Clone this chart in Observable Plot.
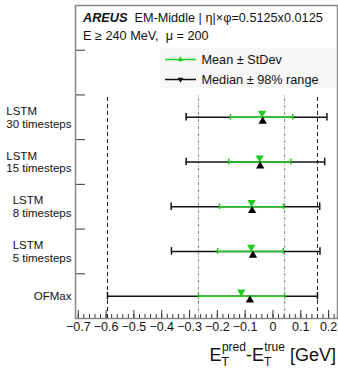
<!DOCTYPE html>
<html>
<head>
<meta charset="utf-8">
<script src="https://cdn.jsdelivr.net/npm/d3@7"></script>
<script src="https://cdn.jsdelivr.net/npm/@observablehq/plot@0.6"></script>
<style>
  html, body { margin: 0; padding: 0; background: #fff; }
  svg { display: block; }
</style>
</head>
<body>
<div id="chart"></div>
<script>
// ---- data ----
const models = ["OFMax", "LSTM 5 timesteps", "LSTM 8 timesteps", "LSTM 15 timesteps", "LSTM 30 timesteps"];
const labelLines = [["OFMax"], ["LSTM", "5 timesteps"], ["LSTM", "8 timesteps"], ["LSTM", "15 timesteps"], ["LSTM", "30 timesteps"]];
const meanVals   = [-0.114, -0.078, -0.077, -0.048, -0.039];
const stdLow     = [-0.268, -0.199, -0.192, -0.159, -0.153];
const stdHigh    = [ 0.042,  0.037,  0.038,  0.064,  0.071];
const medianVals = [-0.083, -0.072, -0.075, -0.046, -0.037];
const rangeLow   = [-0.595, -0.365, -0.366, -0.312, -0.312];
const rangeHigh  = [ 0.160,  0.169,  0.168,  0.186,  0.194];
const xTicks = [-0.7, -0.6, -0.5, -0.4, -0.3, -0.2, -0.1, 0, 0.1, 0.2];
const yTicks = [1, 2, 3, 4, 5, 6];
const titleBold = "AREUS";
const titleRest = "EM-Middle | η|×φ=0.5125x0.0125";
const subtitle = "E ≥ 240 MeV,  μ = 200";
const legendLabels = ["Mean ± StDev", "Median ± 98% range"];

const GREEN = "#22cc22";
const FONT = "'Liberation Sans', Arial, Helvetica, sans-serif";

const rows = models.map((m, i) => ({
  model: m, pos: i + 0.5, lines: labelLines[i],
  mean: meanVals[i], sLo: stdLow[i], sHi: stdHigh[i],
  median: medianVals[i], rLo: rangeLow[i], rHi: rangeHigh[i]
}));
const ref = rows[0]; // OFMax reference lines
const vDashed = [ref.rLo, ref.rHi];
const vDotted = [ref.sLo, ref.sHi];

const xDomain = [-0.71, 0.232];
const minorTicks = d3.range(-35, 12).map(i => +(i * 0.02).toFixed(2)).filter(v => v >= xDomain[0] && v <= xDomain[1]);

const fmt = d3.format(".1f");

// label marks per row (block right-aligned, lines left-aligned)
const ctx = document.createElement("canvas").getContext("2d");
ctx.font = `11.5px ${FONT}`;
const labelMarks = rows.map(r => {
  const w = d3.max(r.lines, l => ctx.measureText(l).width);
  return Plot.text([r], {
    y: "pos", frameAnchor: "left", textAnchor: "start",
    text: d => d.lines.join("\n"), lineHeight: 1.1,
    dx: -4 - w, fontSize: 11.5, fill: "#111"
  });
});

const chart = Plot.plot({
  width: 338, height: 372,
  marginLeft: 75, marginRight: 1, marginTop: 5, marginBottom: 54,
  style: { fontFamily: FONT, fontSize: "12.5px", background: "#fff", color: "#111" },
  x: { domain: xDomain, axis: null },
  y: { domain: [0, 7], axis: null },
  marks: [
    // reference vertical lines from OFMax
    Plot.ruleX(vDotted, { x: d => d, y1: 0, y2: 5, stroke: "#888", strokeDasharray: "3,1.5,1,1.5", strokeWidth: 1 }),
    Plot.ruleX(vDashed, { x: d => d, y1: 0, y2: 5, stroke: "#222", strokeDasharray: "4,3", strokeWidth: 1 }),
    // black 98% range
    Plot.ruleY(rows, { y: "pos", x1: "rLo", x2: "rHi", stroke: "#111", strokeWidth: 1.5 }),
    Plot.ruleX(rows, { x: "rLo", y1: d => d.pos - 0.085, y2: d => d.pos + 0.085, stroke: "#111", strokeWidth: 1.5 }),
    Plot.ruleX(rows, { x: "rHi", y1: d => d.pos - 0.085, y2: d => d.pos + 0.085, stroke: "#111", strokeWidth: 1.5 }),
    // green std
    Plot.ruleY(rows, { y: "pos", x1: "sLo", x2: "sHi", stroke: GREEN, strokeWidth: 1.5 }),
    Plot.ruleX(rows, { x: "sLo", y1: d => d.pos - 0.065, y2: d => d.pos + 0.065, stroke: GREEN, strokeWidth: 1.5 }),
    Plot.ruleX(rows, { x: "sHi", y1: d => d.pos - 0.065, y2: d => d.pos + 0.065, stroke: GREEN, strokeWidth: 1.5 }),
    // markers
    Plot.dot(rows, { x: "mean", y: "pos", symbol: "triangle", rotate: 180, r: 3.1, fill: GREEN, dy: -4.2 }),
    Plot.dot(rows, { x: "median", y: "pos", symbol: "triangle", r: 3.1, fill: "#000", dy: 4 }),
    // axis ticks (inward)
    Plot.ruleX(minorTicks, { x: d => d, y1: 0, y2: 0.09, stroke: "#333", strokeWidth: 1 }),
    Plot.ruleX(xTicks, { x: d => d, y1: 0, y2: 0.18, stroke: "#333", strokeWidth: 1 }),
    Plot.ruleY(yTicks, { y: d => d, x1: xDomain[0], x2: xDomain[0] + 0.036, stroke: "#333", strokeWidth: 1 }),
    Plot.axisX(xTicks, { tickSize: 0, tickPadding: 4, tickFormat: d => d === 0 ? "0" : fmt(d), label: null, fontSize: 12.5 }),
    ...labelMarks,
    Plot.frame({ stroke: "#888", strokeWidth: 1.5 })
  ]
});

const svg = d3.select(chart);

// backgrounds (inserted beneath everything)
svg.insert("rect", ":first-child").attr("x", 160).attr("y", 48).attr("width", 176).attr("height", 40).attr("fill", "#f7f7f7");
svg.insert("rect", ":first-child").attr("width", 338).attr("height", 372).attr("fill", "#fff");

// title lines
const t1 = svg.append("text").attr("x", 83).attr("y", 22).attr("font-size", 12.7).attr("fill", "#111").attr("text-anchor", "start");
t1.append("tspan").attr("font-weight", "bold").attr("font-style", "italic").text(titleBold);
t1.append("tspan").attr("dx", 7).text(titleRest);
svg.append("text").attr("x", 83).attr("y", 40).attr("font-size", 12.7).attr("fill", "#111").attr("text-anchor", "start")
  .attr("xml:space", "preserve").style("white-space", "pre").text(subtitle);

// legend
const legendY = [59.5, 79.5];
const legendColors = [GREEN, "#111"];
legendLabels.forEach((lab, i) => {
  const g = svg.append("g");
  g.append("line").attr("x1", 165).attr("x2", 196).attr("y1", legendY[i]).attr("y2", legendY[i])
    .attr("stroke", legendColors[i]).attr("stroke-width", 1.5);
  g.append("path").attr("d", d3.symbol(d3.symbolTriangle, 14)())
    .attr("transform", `translate(180.5,${legendY[i]})` + (i === 1 ? " rotate(180)" : ""))
    .attr("fill", legendColors[i]);
  g.append("text").attr("x", 201.5).attr("y", legendY[i] + 4.5).attr("font-size", 12.7)
    .attr("fill", "#111").attr("text-anchor", "start").text(lab);
});

// x-axis title: E_T^pred - E_T^true [GeV], right aligned
const xt = svg.append("text").attr("y", 361).attr("font-size", 18).attr("fill", "#111").attr("text-anchor", "end").attr("x", 336);
xt.append("tspan").text("E");
xt.append("tspan").attr("font-size", 12).attr("dy", 5).text("T");
xt.append("tspan").attr("font-size", 12).attr("dx", -7).attr("dy", -15).text("pred");
xt.append("tspan").attr("dy", 10).text("-E");
xt.append("tspan").attr("font-size", 12).attr("dy", 5).text("T");
xt.append("tspan").attr("font-size", 12).attr("dx", -7).attr("dy", -15).text("true");
xt.append("tspan").attr("dy", 10).text(" [GeV]");

document.getElementById("chart").appendChild(chart);
</script>
</body>
</html>
